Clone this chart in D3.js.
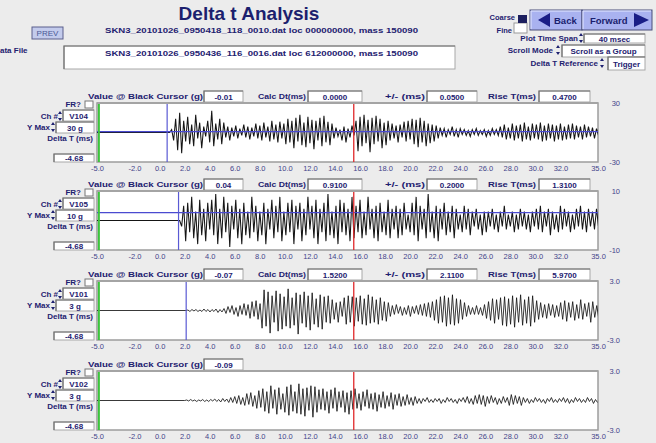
<!DOCTYPE html>
<html><head><meta charset="utf-8">
<script src="https://cdn.jsdelivr.net/npm/d3@7"></script>
<style>
html,body{margin:0;padding:0;background:#ececec;}
svg{display:block;font-family:"Liberation Sans",Arial,sans-serif;}
</style></head><body>
<svg id="c" width="656" height="443"></svg>
<script>
// ---- channel settings ----
const channels   = ["V104", "V105", "V101", "V102"];
const yMaxLabels = ["30 g", "10 g", "3 g", "3 g"];
const yMax       = [30, 10, 3, 3];
const cursorValue = ["-0.01", "0.04", "-0.07", "-0.09"];
const calcDt     = ["0.0000", "0.9100", "1.5200", null];
const plusMinus  = ["0.0500", "0.2000", "2.1100", null];
const riseT      = ["0.4700", "1.3100", "5.9700", null];
const deltaT     = ["-4.68", "-4.68", "-4.68", "-4.68"];

// ---- cursors (ms / g) ----
const blueCursorT = [0.6, 1.51, 2.12, null];
const blueLevel   = [0.8, 2.7, null, null];
const redCursorT  = 15.5;
const greenCursorT = -4.85;

// ---- time axis ----
const timeDomain = [-5, 35];
const timeTicks = [-5, -2, 0, 2, 4, 6, 8, 10, 12, 14, 16, 18, 20, 22, 24, 26, 28, 30, 32, 35];

// ---- acquired samples: start time (ms), step (ms), values ----
const onset = [0.8, 1.6, 2.1, 2.0];
const sampleStep = 0.16;

const waveV104 = [
  3,-8,14,-18,20,-21,12,-9,
  16,-12,8,-14,18,-6,10,-16,6,-4,12,-10,
  22,-14,9,-7,14,-12,
  10,-5,6,-8,5,-4,7,-6,4,-3,8,-5,6,-7,
  5,-4,9,-6,7,-8,10,-5,6,-9,12,-7,8,-10,11,-6,9,-12,
  14,-10,12,-16,15,-9,18,-13,10,-15,16,-11,13,-17,12,-8,15,-14,17,-10,11,-13,
  9,-6,5,-4,3,-8,6,-10,4,-5,7,-3,
  12,-19,16,-14,18,-11,13,-20,15,-12,17,-9,14,-16,10,-13,12,
  -8,9,-6,7,-10,8,-5,11,-9,12,-7,14,-12,13,-15,15,-10,12,-14,9,-11,8,-9,7,-6,
  5,-3,4,-5,3,-2,6,-4,3,-5,4,-2,3,-3,2,-4,3,-2,4,-3,2,-2,3,-4,2,-3,4,-2,3,-3,
  6,-5,8,-7,5,-6,9,-8,7,-6,8,-9,10,-7,6,-8,9,-6,8,-7,10,-9,7,-8,9,-6,8,-9,7,-7,
  9,-8,6,-7,8,-6,9,-7,7,-5,6,-7,8,-5,6,-4,5,-6,4,-3
];
const waveV105 = [
  -2,5,-7,6,-4,8,-6,3,-8,7,-5,4,-7,6,-3,
  7,-5,9,-8,4,-6,8,-4,6,-9,5,-3,7,-6,4,-8,6,-5,3,
  -6,8,-4,5,-7,3,-5,6,-8,4,-3,7,-6,5,-4,8,-7,3,-5,6,-4,7,-8,5,-3,
  6,-7,4,-5,8,-3,5,-6,7,-8,4,-4,6,-7,9,-5,3,-6,5,-8,7,-4,6,-5,4,-7,8,-6,
  5,-4,7,-6,3,-5,8,-3,4,-6,5,-7,6,-4,3,-5,7,-6,4,-3,5,-6,4,-5,6,-3,2,-4,
  6,-5,8,-7,5,-3,4,-6,9,-4,3,-6,5,-7,4,-3,6,-5,3,-4,5,-6,4,-3,2,-4,5,-3,4,-5,3,-2,4,-3,2,-5,3,-4,
  3,-2,4,-3,2,-4,3,-2,5,-3,2,-2,3,-4,2,-3,4,-2,3,-3,2,-4,3,-2,4,-3,5,-4,3,-2,4,-5,3,-3,2,-4,5,-3,4,-2,
  3,-4,2,-3,4,-2,5,-3,3,-4,4,-2,3,-3,4,-2
];
const waveV101 = [
  0.05,-0.1,0.1,-0.05,0.1,-0.1,0.05,-0.1,0.15,-0.1,0.1,-0.15,0.1,-0.1,0.15,-0.2,0.1,-0.15,0.2,
  -0.3,0.4,-0.2,0.5,-0.4,0.3,-0.6,0.5,-0.4,0.7,-0.5,0.6,-0.8,0.9,-0.6,1.0,-0.9,0.7,
  -1.8,2.1,-1.6,1.9,-2.3,1.5,-1.2,2.0,-2.1,1.7,-1.9,1.4,-1.6,2.2,-1.8,1.3,-1.5,1.8,-2.4,1.6,-1.3,1.9,-1.7,1.5,-2.0,1.8,-1.4,1.2,-1.7,1.6,-1.9,1.4,-1.2,1.5,-1.3,
  1.1,-0.9,0.8,-1.2,0.9,-0.6,1.3,-1.4,1.5,-1.2,1.4,-1.6,1.3,-1.1,1.5,-1.4,1.2,-1.5,1.6,-1.3,1.4,-1.2,1.1,-1.4,1.3,-1.0,0.9,-1.1,0.8,
  -0.6,0.5,-0.4,0.6,-0.3,0.4,-0.5,0.3,-0.4,0.5,-0.6,0.4,-0.3,0.5,-0.4,0.6,-0.5,0.7,-0.6,0.8,-0.7,0.9,-1.0,1.1,
  -1.3,1.4,-1.2,1.5,-1.6,1.3,-1.4,1.6,-1.5,1.2,-1.3,1.1,-0.9,0.8,-0.6,0.5,-0.4,0.3,-0.4,
  0.5,-0.4,0.3,-0.5,0.6,-0.8,0.9,-1.0,1.2,-1.3,1.1,-0.9,
  1.3,-1.5,1.4,-1.6,1.2,-1.4,1.5,-1.7,1.3,-1.2,1.6,-1.5,1.1,-1.3,1.4,-1.6,1.5,-1.2,1.0,-0.9,0.8,-0.7,0.6,-0.8,0.7,-0.5,0.6,-0.7,0.5,-0.6,0.8,
  -0.9,1.0,-1.1,0.8,-0.7,0.9,-1.0,0.6,-0.8,1.1,-0.9,0.7,-0.6,0.8,-1.2,0.9,-0.7,0.5,-0.8
];
const waveV102 = [
  0.05,-0.05,0.1,-0.05,0.05,-0.1,0.05,-0.05,0.1,-0.1,0.05,-0.1,0.1,-0.05,0.15,-0.1,0.1,-0.15,0.2,-0.1,0.15,-0.2,
  0.3,-0.2,0.4,-0.3,0.5,-0.4,0.3,-0.5,0.7,-0.4,0.8,-0.6,0.5,-0.8,1.0,
  -0.7,1.2,-1.1,0.9,-1.3,1.5,-0.8,1.1,-1.4,1.3,-0.9,0.7,-1.2,1.4,-1.5,1.6,-1.1,0.9,-1.3,1.7,-1.4,1.2,-1.6,1.3,-1.0,1.5,-1.7,1.4,-1.2,1.1,-0.9,
  1.2,-1.0,0.9,-1.3,1.1,-0.8,1.3,-1.1,0.9,-0.7,1.0,-1.2,0.8,-1.4,1.0,-0.9,1.2,-0.8,0.7,-1.0,0.9,-0.6,1.1,-0.8,0.7,
  -0.9,0.8,-1.1,0.6,-0.7,0.9,-0.8,0.5,-0.6,0.8,-0.9,0.6,-0.5,0.7,-0.6,0.4,-0.5,0.6,-0.4,0.3,-0.5,0.4,-0.3,0.2,-0.3,
  0.2,-0.1,0.3,-0.2,0.1,-0.2,0.2,-0.1,0.2,-0.3,0.1,-0.2,0.3,-0.1,0.2,-0.2,0.1,-0.3,0.2,-0.1,
  0.3,-0.2,0.4,-0.3,0.2,-0.4,0.5,-0.3,0.6,-0.4,0.5,-0.6,0.4,-0.3,0.5,-0.2,0.3,-0.4,0.2,-0.3,
  0.4,-0.2,0.3,-0.5,0.6,-0.4,0.5,-0.3,0.4,-0.5,0.3,-0.2,0.2,-0.3,0.1,-0.2,0.3,-0.1,0.2,-0.2,
  0.1,-0.3,0.2,-0.1,0.3,-0.2,0.1,-0.2,0.2,-0.1,0.3,-0.2,0.2,-0.3,0.1,-0.2,0.3,-0.1,0.2,-0.2,
  0.1,-0.2,0.3,-0.1,0.2,-0.3,0.1,-0.2
];
const waves = [waveV104, waveV105, waveV101, waveV102];
const traceWidth = [1.05, 1.05, 0.85, 0.85];

// ---- header texts ----
const titleText = "Delta t Analysis";
const fileA = "SKN3_20101026_0950418_118_0010.dat  loc 000000000, mass 150090";
const fileB = "SKN3_20101026_0950436_116_0016.dat  loc 612000000, mass 150090";

// ---- drawing ----
const NAVY = "#1e2170", TICK = "#44448a";
const svg = d3.select("#c");
const W = 656, H = 443;
svg.append("rect").attr("width", W).attr("height", H).attr("fill", "#ececec");

function text(g, x, y, s, o = {}) {
  const t = g.append("text").attr("x", x).attr("y", y).text(s)
    .attr("fill", o.color || NAVY)
    .attr("font-size", o.size || 8)
    .attr("font-weight", o.weight || "bold")
    .attr("text-anchor", o.anchor || "start");
  if (o.len) t.attr("textLength", o.len).attr("lengthAdjust", "spacingAndGlyphs");
  return t;
}
function box(g, x0, y0, x1, y1, s, o = {}) {
  g.append("rect").attr("x", x0).attr("y", y0).attr("width", x1 - x0).attr("height", y1 - y0)
    .attr("fill", o.fill || "#fff").attr("stroke", o.stroke || "#a8a8a8").attr("stroke-width", 1);
  g.append("path").attr("d", `M${x0},${y1}V${y0}H${x1}`).attr("fill", "none")
    .attr("stroke", "#6e6e6e").attr("stroke-width", 1.2);
  if (s != null) text(g, (x0 + x1) / 2, (y0 + y1) / 2 + 3, s, { anchor: "middle", size: o.size || 8 });
}
function spinner(g, x, yc) {
  g.append("path").attr("d", `M${x - 2},${yc - 2}l2,-3l2,3z M${x - 2},${yc + 2}l2,3l2,-3z`).attr("fill", NAVY);
}

// title and file lines
const hdr = svg.append("g");
text(hdr, 249, 20, titleText, { anchor: "middle", size: 19, color: "#1c1f6e" });
text(hdr, 105, 33, fileA, { size: 8, len: 313 });
box(hdr, 64, 46, 455, 69, null);
text(hdr, 105, 56, fileB, { size: 8, len: 313 });
text(hdr, 0, 53, "ata File", { size: 8 });
hdr.append("rect").attr("x", 32).attr("y", 27).attr("width", 31).attr("height", 12)
  .attr("fill", "#c3cbec").attr("stroke", "#5a5f8c");
text(hdr, 47.5, 36, "PREV", { anchor: "middle", size: 8, color: "#4a5896", weight: "normal" });

// coarse / fine selector
text(hdr, 515, 20, "Coarse", { anchor: "end", size: 7.5 });
text(hdr, 512, 33, "Fine", { anchor: "end", size: 7.5 });
hdr.append("rect").attr("x", 514).attr("y", 23).attr("width", 13).attr("height", 10).attr("fill", "#fff").attr("stroke", "#999");
hdr.append("rect").attr("x", 518).attr("y", 15).attr("width", 9).attr("height", 8).attr("fill", "#1c1f5e");

// back / forward buttons
function button(x0, x1, label, dir) {
  hdr.append("rect").attr("x", x0).attr("y", 10).attr("width", x1 - x0).attr("height", 20)
    .attr("fill", "#a9b2f0").attr("stroke", "#4a4f7a").attr("stroke-width", 1);
  hdr.append("path").attr("d", `M${x0 + 1},29V11H${x1 - 1}`).attr("fill", "none").attr("stroke", "#e4e8ff");
  if (dir < 0) {
    hdr.append("path").attr("d", `M${x0 + 8},20l12,-7v14z`).attr("fill", "#1a1e86");
    text(hdr, x0 + 24, 24, label, { size: 9.5, color: "#1a1e6e" });
  } else {
    text(hdr, x0 + 8, 24, label, { size: 9.5, color: "#1a1e6e" });
    hdr.append("path").attr("d", `M${x1 - 3},20l-15,-7v14z`).attr("fill", "#1a1e86");
  }
}
button(530, 582, "Back", -1);
button(582, 652, "Forward", 1);

// option rows
text(hdr, 578, 41, "Plot Time Span", { anchor: "end", size: 8 });
spinner(hdr, 581, 38);
box(hdr, 584, 34, 645, 43, "40 msec");
text(hdr, 553, 53, "Scroll Mode", { anchor: "end", size: 8 });
spinner(hdr, 558, 50);
box(hdr, 562, 45, 645, 57, "Scroll as a Group");
text(hdr, 598, 66, "Delta T Reference", { anchor: "end", size: 8 });
spinner(hdr, 602, 63);
box(hdr, 608, 57, 645, 70, "Trigger");

// ---- panels ----
const panelTop = [103, 191, 281, 371];
const panelH = 59;
const x = d3.scaleLinear().domain(timeDomain).range([97, 598]);

const defs = svg.append("defs");

channels.forEach((ch, i) => {
  const T = panelTop[i], B = T + panelH;
  const g = svg.append("g");
  const y = d3.scaleLinear().domain([-yMax[i], yMax[i]]).range([B, T]);

  // header row
  const hy = T - 12;
  text(g, 88, T - 4, "Value @ Black Cursor (g)", { size: 8, len: 115 });
  box(g, 204, hy, 243, T - 1, cursorValue[i]);
  if (calcDt[i] != null) {
    text(g, 258, T - 4, "Calc Dt(ms)", { size: 8, len: 48 });
    box(g, 308, hy, 362, T - 1, calcDt[i]);
    text(g, 385, T - 4, "+/- (ms)", { size: 8, len: 40 });
    box(g, 427, hy, 477, T - 1, plusMinus[i]);
    text(g, 488, T - 4, "Rise T(ms)", { size: 8, len: 48 });
    box(g, 539, hy, 590, T - 1, riseT[i]);
  }

  // left controls
  text(g, 81, T + 4, "FR?", { anchor: "end", size: 8 });
  g.append("rect").attr("x", 85).attr("y", T - 2).attr("width", 8).attr("height", 7)
    .attr("fill", "#fff").attr("stroke", "#777");
  text(g, 58, T + 16, "Ch #", { anchor: "end", size: 8 });
  spinner(g, 60, T + 13);
  box(g, 63, T + 7, 94, T + 18, ch);
  text(g, 50, T + 27, "Y Max", { anchor: "end", size: 8 });
  spinner(g, 53, T + 24);
  box(g, 56, T + 19, 94, T + 30, yMaxLabels[i]);
  text(g, 93, T + 38, "Delta T (ms)", { anchor: "end", size: 8 });
  box(g, 54, T + 51, 94, T + 59, deltaT[i]);

  // plot area
  g.append("rect").attr("x", 97).attr("y", T).attr("width", 501).attr("height", panelH)
    .attr("fill", "#fff").attr("stroke", "#9c9c9c").attr("stroke-width", 1.5);
  g.append("line").attr("x1", 97).attr("x2", 598).attr("y1", T).attr("y2", T)
    .attr("stroke", "#a4a4a4").attr("stroke-width", 2);
  defs.append("clipPath").attr("id", "clip" + i).append("rect")
    .attr("x", 97).attr("y", T + 1).attr("width", 501).attr("height", panelH - 1);
  const pg = g.append("g").attr("clip-path", `url(#clip${i})`);

  // signal: quiet baseline before the onset, then the samples
  const pts = [[timeDomain[0], 0], [onset[i], 0]]
    .concat(waves[i].map((v, k) => [onset[i] + (k + 1) * sampleStep, v]));
  pg.append("path").datum(pts)
    .attr("d", d3.line().x(d => x(d[0])).y(d => y(d[1])))
    .attr("fill", "none").attr("stroke", "#151515").attr("stroke-width", traceWidth[i]);

  if (blueLevel[i] != null)
    pg.append("line").attr("x1", 97).attr("x2", 598).attr("y1", y(blueLevel[i])).attr("y2", y(blueLevel[i]))
      .attr("stroke", "#4a4ad0").attr("stroke-width", 1.2);
  if (blueCursorT[i] != null)
    pg.append("line").attr("x1", x(blueCursorT[i])).attr("x2", x(blueCursorT[i])).attr("y1", T).attr("y2", B)
      .attr("stroke", "#5a5ad4").attr("stroke-width", 1.2);
  pg.append("line").attr("x1", x(redCursorT)).attr("x2", x(redCursorT)).attr("y1", T).attr("y2", B)
    .attr("stroke", "#e0282a").attr("stroke-width", 1.3);
  pg.append("line").attr("x1", x(greenCursorT)).attr("x2", x(greenCursorT)).attr("y1", T).attr("y2", B)
    .attr("stroke", "#3cc43c").attr("stroke-width", 2);

  // bottom time axis
  const ax = g.append("g").attr("transform", `translate(0,${B})`)
    .call(d3.axisBottom(x).tickValues(timeTicks).tickSize(0).tickPadding(4).tickFormat(d => d.toFixed(1)));
  ax.select(".domain").remove();
  ax.selectAll("text").attr("fill", TICK).attr("font-size", 7.5).attr("font-family", "Liberation Sans, Arial, sans-serif");

  // right amplitude labels
  const fmt = yMax[i] >= 10 ? (d => d3.format("d")(d).replace("−", "-")) : (d => d.toFixed(1));
  const ay = g.append("g").attr("transform", "translate(598,0)")
    .call(d3.axisRight(y).tickValues([-yMax[i], yMax[i]]).tickSize(0).tickFormat(fmt));
  ay.select(".domain").remove();
  ay.selectAll("text").attr("x", 22).attr("text-anchor", "end").attr("fill", TICK)
    .attr("font-size", 7.5).attr("font-family", "Liberation Sans, Arial, sans-serif");
});
</script></body></html>
